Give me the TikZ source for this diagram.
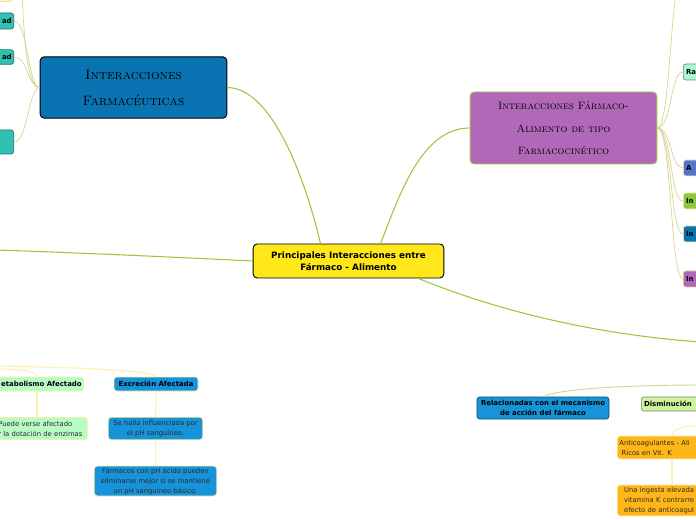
\documentclass[tikz,border=0pt]{standalone}
\usepackage{fontspec}
\usepackage{tikz}
\usetikzlibrary{calc}
\newfontfamily\mapfont{DejaVu Sans}

\definecolor{cyellow}{HTML}{FFE71A}
\definecolor{cblue}{HTML}{0A73B2}
\definecolor{cpurple}{HTML}{B168B9}
\definecolor{cgreen}{HTML}{9DC83E}
\definecolor{cteal}{HTML}{31C1B3}
\definecolor{cmint}{HTML}{AAF7D4}
\definecolor{cindigo}{HTML}{5873CC}
\definecolor{clime}{HTML}{8DC63F}
\definecolor{csky}{HTML}{1693D9}
\definecolor{clgreen}{HTML}{B8FBC4}
\definecolor{cdism}{HTML}{CCF59C}
\definecolor{corange}{HTML}{FFB718}
\definecolor{colive}{HTML}{D8D38E}
\definecolor{cpale}{HTML}{FFF0A8}
\definecolor{cdark}{HTML}{2B2B2B}
\definecolor{ctlyellow}{HTML}{FFF7B5}

\tikzset{
  topic/.style={draw, rounded corners=3pt, line width=0.7pt, align=center, inner sep=0pt},
  handtext/.style 2 args={font=\rmfamily\scshape\fontsize{#1}{#2}\selectfont},
  smallbox/.style={draw, rounded corners=2pt, line width=0.5pt, inner sep=0pt,
    font=\mapfont\bfseries\fontsize{5.2}{7.6}\selectfont},
  textbox/.style={draw, rounded corners=2.5pt, line width=0.6pt, inner sep=0pt,
    text=cdark, font=\mapfont\fontsize{5.1}{7.5}\selectfont},
  mainline/.style={draw=cgreen, line width=0.8pt},
  branch/.style={draw=colive, line width=0.5pt},
  paleline/.style={draw=cpale, line width=0.8pt}
}

\begin{document}
\begin{tikzpicture}[x=0.75pt,y=-0.75pt]
\clip (0,0) rectangle (696,520);
\fill[white] (0,0) rectangle (696,520);

% central topic and main topics
\node[topic, fill=cyellow, minimum width=143pt, minimum height=25.5pt,
  font=\mapfont\bfseries\fontsize{6.6}{9}\selectfont] (central) at (348.5,261)
  {Principales Interacciones entre\\Fármaco - Alimento};
\node[topic, fill=cblue, minimum width=140pt, minimum height=46pt, handtext={10.2}{19.5}] (farmac) at (133.5,87.5)
  {Interacciones\\Farmacéuticas};
\node[topic, fill=cpurple, draw=cgreen, minimum width=140pt, minimum height=54pt, handtext={8}{17}] (cinetico) at (563.5,128)
  {Interacciones Fármaco-\\Alimento de tipo\\Farmacocinético};

% left subtopics
\node[smallbox, fill=ctlyellow, draw=colive, anchor=south east, minimum width=30pt, minimum height=12pt] (tlnode) at (12,2) {};
\node[smallbox, fill=cteal, draw=cteal!60!black, anchor=east, minimum width=30pt, minimum height=12pt,
  text width=27pt, align=right] (tealA) at (14,21) {ad};
\node[smallbox, fill=cteal, draw=cteal!60!black, anchor=east, minimum width=30pt, minimum height=11pt,
  text width=27pt, align=right] (tealB) at (14,57) {ad};
\node[smallbox, fill=cteal, draw=cteal!60!black, anchor=east, minimum width=30pt, minimum height=18pt] (tealC) at (14,142) {};

% right subtopics
\node[smallbox, fill=cmint, draw=gray, anchor=west, minimum width=30pt, minimum height=12pt,
  text width=26pt, align=left] (rnodeA) at (683,72) {Ra};
\node[smallbox, fill=cindigo, draw=cpale, anchor=west, minimum width=30pt, minimum height=12pt,
  text width=26pt, align=left] (rnodeB) at (683,168) {A};
\node[smallbox, fill=clime, draw=cpale, anchor=west, minimum width=30pt, minimum height=12pt,
  text width=26pt, align=left] (rnodeC) at (683,201) {In};
\node[smallbox, fill=cblue, draw=cpale, anchor=west, minimum width=30pt, minimum height=12pt,
  text width=26pt, align=left] (rnodeD) at (683,234) {In};
\node[smallbox, fill=cpurple, draw=colive, anchor=west, minimum width=30pt, minimum height=12pt,
  text width=26pt, align=left] (rnodeE) at (683,279) {In};

% bottom left branch
\node[smallbox, fill=clgreen, draw=cpale, anchor=east, minimum width=75pt, minimum height=10.5pt,
  text width=72pt, align=right] (metab) at (84,384) {etabolismo Afectado};
\node[textbox, fill=clgreen, draw=cpale, anchor=east, minimum height=17pt,
  text width=64pt, inner xsep=3pt, align=left] (puede) at (88,428.5) {Puede verse afectado\\r la dotación de enzimas};
\node[smallbox, fill=csky, draw=cpale, minimum width=63pt, minimum height=10.5pt] (excr) at (156,384) {Excreción Afectada};
\node[textbox, fill=csky, draw=cpale, minimum width=71pt, minimum height=17pt, align=center] (halla) at (155.5,428.5)
  {Se halla influenciada por\\el pH sanguíneo.};
\node[textbox, fill=csky, draw=cpale, minimum width=92pt, minimum height=22.5pt, align=center] (acido) at (155.5,481)
  {Fármacos con pH ácido pueden\\eliminarse mejor si se mantiene\\un pH sanguíneo básico.};

% bottom right branch
\node[smallbox, fill=csky, draw=csky!50!black, minimum width=99pt, minimum height=16.5pt, align=center] (mecan) at (543,408)
  {Relacionadas con el mecanismo\\de acción del fármaco};
\node[smallbox, fill=cdism, draw=gray, anchor=west, minimum width=60pt, minimum height=10.5pt,
  text width=56pt, align=left] (dismin) at (641,404) {Disminución};
\node[textbox, fill=corange, draw=corange!60!white, anchor=west, minimum width=80pt, minimum height=17pt,
  text width=77pt, align=left] (anticoag) at (617,447.5) {Anticoagulantes - Ali\\\ Ricos en Vit. K};
\node[textbox, fill=corange, draw=corange!60!white, anchor=west, minimum width=80pt, minimum height=23pt,
  text width=72pt, inner xsep=5pt, align=left] (ingesta) at (617,500.5) {Una ingesta elevada\\vitamina K contrarre\\efecto de anticoagul};

% free ends outside the picture
\coordinate (offleft) at (-5,250);
\coordinate (offright) at (701,342);
\coordinate (tlend) at (22,-5);
\coordinate (trend) at (676,-5);
\coordinate (mecanend) at (701,385);
\coordinate (anticoagend) at (701,426);
\coordinate (metabend) at (-5,369);
\coordinate (excrend) at (-5,366);

% main connectors
\draw[mainline] (farmac.east) .. controls (275,88) and (308,190) .. ($(central.north)+(-28,0)$);
\draw[mainline] (cinetico.west) .. controls (420,128) and (398,200) .. ($(central.north)+(32,0)$);
\draw[mainline] ($(central.south)+(70,0)$) .. controls (500,312) and (600,335) .. (offright);
\draw[mainline] (central.west) .. controls (150,256) and (60,252) .. (offleft);

% left hub
\draw[branch] (farmac.west) .. controls (26,88) and (24,30) .. (tlend);
\draw[branch] (farmac.west) .. controls (28,88) and (28,21) .. (tealA.east);
\draw[branch] (farmac.west) .. controls (28,88) and (28,57) .. (tealB.east);
\draw[branch] (farmac.west) .. controls (28,88) and (28,142) .. (tealC.east);

% right hub
\draw[branch] (cinetico.east) .. controls (668,128) and (670,30) .. (trend);
\draw[branch] (cinetico.east) .. controls (672,128) and (670,72) .. (rnodeA.west);
\draw[branch] (cinetico.east) .. controls (672,128) and (670,168) .. (rnodeB.west);
\draw[branch] (cinetico.east) .. controls (672,128) and (670,201) .. (rnodeC.west);
\draw[branch] (cinetico.east) .. controls (672,128) and (670,234) .. (rnodeD.west);
\draw[branch] (cinetico.east) .. controls (672,128) and (670,279) .. (rnodeE.west);

% bottom connectors
\draw[paleline] ($(metab.north east)+(-47,0)$) .. controls (36,371) and (20,369) .. (metabend);
\draw[paleline] (excr.north) .. controls (156,370) and (60,367) .. (excrend);
\draw[paleline] ($(metab.south east)+(-47,0)$) -- ($(puede.north east)+(-51,0)$);
\draw[paleline] (excr.south) -- (halla.north);
\draw[paleline] (halla.south) -- (acido.north);
\draw[branch, line width=0.7pt] (mecan.north) .. controls (560,388) and (640,385) .. (mecanend);
\draw[paleline] ($(anticoag.north west)+(55,0)$) .. controls (672,428) and (685,426) .. (anticoagend);
\draw[paleline] ($(anticoag.south west)+(55,0)$) -- ($(ingesta.north west)+(55,0)$);
\end{tikzpicture}
\end{document}
